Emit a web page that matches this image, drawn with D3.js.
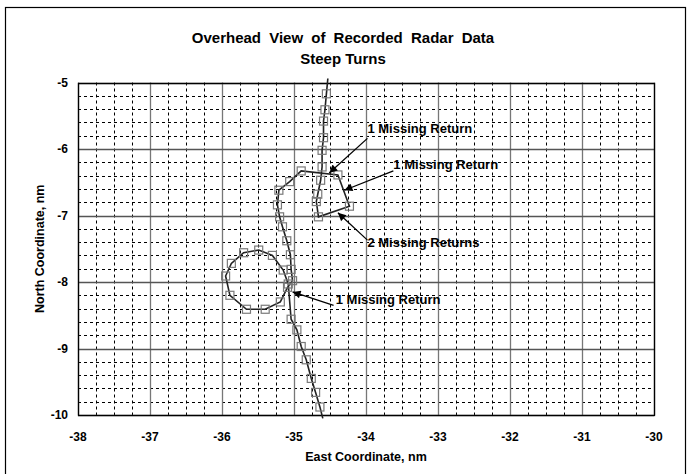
<!DOCTYPE html>
<html><head><meta charset="utf-8">
<script src="https://cdn.jsdelivr.net/npm/d3@7"></script>
<style>body{margin:0;background:#fff}svg{display:block}text{font-family:"Liberation Sans",Arial,sans-serif;font-weight:bold}</style>
</head><body><svg id="c" width="690" height="474"></svg>
<script>
const titleLines = ["Overhead View of Recorded Radar Data", "Steep Turns"];
const xLabel = "East Coordinate, nm";
const yLabel = "North Coordinate, nm";
const xTicks = [-38, -37, -36, -35, -34, -33, -32, -31, -30];
const yTicks = [-5, -6, -7, -8, -9, -10];
const eastCoord = [-34.53, -34.55, -34.57, -34.59, -34.59, -34.61, -34.61, -34.63, -34.67, -34.69, -34.66,
  -34.23, -34.39, -34.90, -35.06, -35.21, -35.23, -35.20, -35.16, -35.10, -35.05, -35.04, -35.02,
  -35.09, -35.19, -35.40, -35.66, -35.89, -35.95, -35.87, -35.70, -35.49, -35.30, -35.15, -35.08,
  -35.04, -34.96, -34.90, -34.83, -34.76, -34.70, -34.64, -34.60];
const northCoord = [-4.94, -5.17, -5.41, -5.58, -5.83, -6.02, -6.27, -6.47, -6.68, -6.79, -7.02,
  -6.86, -6.39, -6.33, -6.49, -6.62, -6.84, -7.02, -7.17, -7.38, -7.59, -7.81, -7.98,
  -8.08, -8.30, -8.41, -8.41, -8.20, -7.91, -7.72, -7.56, -7.52, -7.60, -7.82, -8.03,
  -8.56, -8.72, -8.97, -9.17, -9.45, -9.66, -9.88, -10.05];
const noteText = ["1 Missing Return", "1 Missing Return", "2 Missing Returns", "1 Missing Return"];
const noteTip = [[-34.51, -6.36], [-34.30, -6.62], [-34.39, -6.96], [-35.02, -8.15]];
const noteTail = [[-33.98, -5.84], [-33.62, -6.33], [-33.98, -7.37], [-34.45, -8.35]];
const noteAt = [[-33.98, -5.70], [-33.62, -6.24], [-33.98, -7.42], [-34.42, -8.27]];

const svg = d3.select("#c");
const L = 78, R = 654, T = 82.5, B = 415;
const x = d3.scaleLinear().domain([-38, -30]).range([L, R]);
const y = d3.scaleLinear().domain([-10, -5]).range([B, T]);

svg.append("rect").attr("x", 5.5).attr("y", 7.5).attr("width", 680).attr("height", 480)
  .attr("fill", "none").attr("stroke", "#000").attr("stroke-width", 1.2);

svg.append("text").attr("x", 343).attr("y", 43).attr("text-anchor", "middle").attr("font-size", 15)
  .attr("word-spacing", 4).text(titleLines[0]);
svg.append("text").attr("x", 343).attr("y", 64).attr("text-anchor", "middle").attr("font-size", 15).text(titleLines[1]);

// minor grid
const minorX = d3.range(-38, -30, 0.25).filter(v => Math.abs(v - Math.round(v)) > 1e-6);
const minorY = d3.range(-10, -5, 0.2).filter(v => Math.abs(v - Math.round(v)) > 1e-6);
const g = svg.append("g");
g.selectAll(".mx").data(minorX).join("line").attr("x1", d => Math.round(x(d)) + 0.5).attr("x2", d => Math.round(x(d)) + 0.5)
  .attr("y1", T).attr("y2", B).attr("stroke", "#000").attr("stroke-dasharray", "3,3").attr("stroke-width", 1);
g.selectAll(".my").data(minorY).join("line").attr("y1", d => Math.round(y(d)) + 0.5).attr("y2", d => Math.round(y(d)) + 0.5)
  .attr("x1", L).attr("x2", R).attr("stroke", "#000").attr("stroke-dasharray", "3,3").attr("stroke-width", 1);
// major grid
g.selectAll(".Mx").data(xTicks).join("line").attr("x1", d => Math.round(x(d)) + 0.5).attr("x2", d => Math.round(x(d)) + 0.5)
  .attr("y1", T).attr("y2", B).attr("stroke", "#777").attr("stroke-width", 1.3);
g.selectAll(".My").data(yTicks).join("line").attr("y1", d => Math.round(y(d)) + 0.5).attr("y2", d => Math.round(y(d)) + 0.5)
  .attr("x1", L).attr("x2", R).attr("stroke", "#555").attr("stroke-width", 1.3);
svg.append("rect").attr("x", L + 0.5).attr("y", Math.round(T) + 0.5).attr("width", R - L).attr("height", B - Math.round(T))
  .attr("fill", "none").attr("stroke", "#000").attr("stroke-width", 1.3);

// axes labels
svg.selectAll(".xt").data(xTicks).join("text").attr("x", d => x(d)).attr("y", 441).attr("text-anchor", "middle")
  .attr("font-size", 12).text(d => d);
svg.selectAll(".yt").data(yTicks).join("text").attr("x", L - 10).attr("y", d => y(d) + 4).attr("text-anchor", "end")
  .attr("font-size", 12).text(d => d);
svg.append("text").attr("x", (L + R) / 2).attr("y", 461).attr("text-anchor", "middle").attr("font-size", 12.5).text(xLabel);
svg.append("text").attr("transform", `translate(44,${(T + B) / 2}) rotate(-90)`).attr("text-anchor", "middle").attr("font-size", 12.5).text(yLabel);

// track
const pts = eastCoord.map((e, i) => [e, northCoord[i]]);
svg.append("path").datum(pts).attr("fill", "none").attr("stroke", "#222").attr("stroke-width", 1.6)
  .attr("d", d3.line().x(d => x(d[0])).y(d => y(d[1])));
svg.selectAll(".mk").data(pts.filter(p => p[1] <= -5 && p[1] >= -10)).join("rect")
  .attr("x", d => x(d[0]) - 4).attr("y", d => y(d[1]) - 4).attr("width", 8).attr("height", 8)
  .attr("fill", "none").attr("stroke", "#7a7a7a").attr("stroke-width", 1.2);

// annotations
const defs = svg.append("defs");
defs.append("marker").attr("id", "ah").attr("viewBox", "0 0 10 10").attr("refX", 10).attr("refY", 5)
  .attr("markerWidth", 11).attr("markerHeight", 8).attr("markerUnits", "userSpaceOnUse").attr("orient", "auto")
  .append("path").attr("d", "M0,0 L10,5 L0,10 z").attr("fill", "#000");
noteText.forEach((t, i) => {
  svg.append("line").attr("x1", x(noteTail[i][0])).attr("y1", y(noteTail[i][1]))
    .attr("x2", x(noteTip[i][0])).attr("y2", y(noteTip[i][1])).attr("stroke", "#000").attr("stroke-width", 1.3)
    .attr("marker-end", "url(#ah)");
  svg.append("text").attr("x", x(noteAt[i][0])).attr("y", y(noteAt[i][1]) + 4).attr("font-size", 13).text(t);
});
</script></body></html>
